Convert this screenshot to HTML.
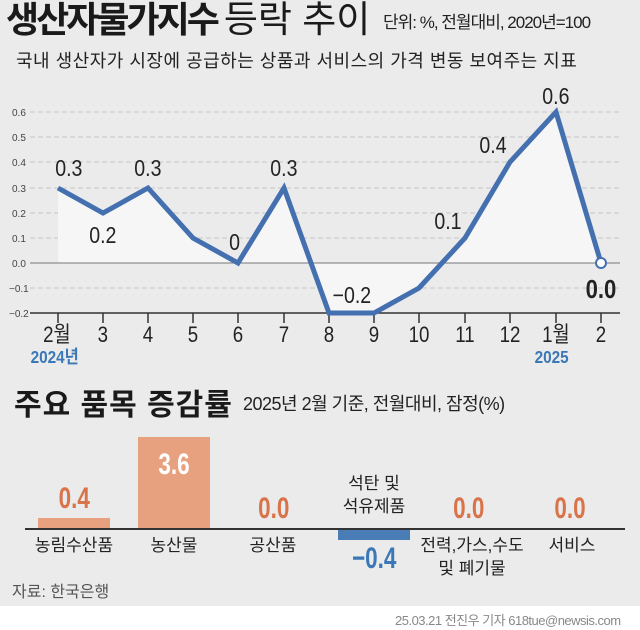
<!DOCTYPE html><html><head><meta charset="utf-8"><style>
body{margin:0;width:640px;height:630px;overflow:hidden;background:#ebebeb;font-family:"Liberation Sans","Noto Sans CJK KR",sans-serif;position:relative}
.t{position:absolute;white-space:nowrap}
</style></head><body>
<div class="t" style="left:6px;top:-11px;font-size:36px;font-weight:bold;color:#1a1a1a;letter-spacing:-3px">생산자물가지수 <span style="font-weight:normal;letter-spacing:0px;font-size:37px">등락 추이</span></div>
<div class="t" style="left:383px;top:8px;font-size:17px;color:#222;letter-spacing:-1px">단위: %, 전월대비, 2020년=100</div>
<div class="t" style="left:16px;top:47px;font-size:18px;color:#222;letter-spacing:0.5px">국내 생산자가 시장에 공급하는 상품과 서비스의 가격 변동 보여주는 지표</div>
<svg width="640" height="380" style="position:absolute;left:0;top:0" font-family="Liberation Sans, Noto Sans CJK KR, sans-serif">
<g stroke="#c4c4c4" stroke-dasharray="5,3" stroke-width="1">
<line x1="30" x2="620" y1="112" y2="112"/><line x1="30" x2="620" y1="137" y2="137"/><line x1="30" x2="620" y1="162" y2="162"/><line x1="30" x2="620" y1="188" y2="188"/><line x1="30" x2="620" y1="213" y2="213"/><line x1="30" x2="620" y1="238" y2="238"/><line x1="30" x2="620" y1="288" y2="288"/></g>
<polygon fill="#f6f6f6" points="58,263 58,188 103,213 148,188 193,238 238,263 284,188 329,313 374,313 419,288 465,238 510,162 556,112 601,263"/>
<line x1="30" x2="620" y1="263" y2="263" stroke="#777" stroke-width="1"/>
<line x1="30" x2="620" y1="313" y2="313" stroke="#333" stroke-width="1.5"/>
<g stroke="#333" stroke-width="1.5"><line x1="58" x2="58" y1="313" y2="323"/><line x1="103" x2="103" y1="313" y2="323"/><line x1="148" x2="148" y1="313" y2="323"/><line x1="193" x2="193" y1="313" y2="323"/><line x1="238" x2="238" y1="313" y2="323"/><line x1="284" x2="284" y1="313" y2="323"/><line x1="329" x2="329" y1="313" y2="323"/><line x1="374" x2="374" y1="313" y2="323"/><line x1="419" x2="419" y1="313" y2="323"/><line x1="465" x2="465" y1="313" y2="323"/><line x1="510" x2="510" y1="313" y2="323"/><line x1="556" x2="556" y1="313" y2="323"/><line x1="601" x2="601" y1="313" y2="323"/></g>
<g font-size="10" fill="#444"><text x="12" y="116">0.6</text><text x="12" y="141">0.5</text><text x="12" y="166">0.4</text><text x="12" y="192">0.3</text><text x="12" y="217">0.2</text><text x="12" y="242">0.1</text><text x="12" y="267">0.0</text><text x="9" y="292">−0.1</text><text x="9" y="317">−0.2</text></g>
<polyline fill="none" stroke="#4470b0" stroke-width="5" stroke-linejoin="miter" points="58,188 103,213 148,188 193,238 238,263 284,188 329,313 374,313 419,288 465,238 510,162 556,112 601,263"/>
<circle cx="601" cy="263" r="5" fill="#fff" stroke="#4470b0" stroke-width="2"/>
<g font-size="23" fill="#222" text-anchor="middle" transform="scale(0.85,1)">
<text x="81" y="176">0.3</text><text x="121" y="243">0.2</text><text x="174" y="176">0.3</text><text x="276" y="250">0</text><text x="334" y="176">0.3</text><text x="414" y="303">−0.2</text><text x="527" y="229">0.1</text><text x="580" y="153">0.4</text><text x="654" y="104">0.6</text><text x="707" y="298" font-weight="bold" font-size="26">0.0</text></g>
<g font-size="22" fill="#222" text-anchor="middle" transform="scale(0.85,1)">
<text x="67" y="342">2월</text><text x="121" y="342">3</text><text x="174" y="342">4</text><text x="227" y="342">5</text><text x="280" y="342">6</text><text x="334" y="342">7</text><text x="387" y="342">8</text><text x="440" y="342">9</text><text x="493" y="342">10</text><text x="547" y="342">11</text><text x="600" y="342">12</text><text x="654" y="342">1월</text><text x="707" y="342">2</text></g>
<g font-size="18" fill="#3a78b8" font-weight="bold" transform="scale(0.85,1)"><text x="36" y="363">2024년</text><text x="629" y="363">2025</text></g>
</svg>
<div class="t" style="left:14px;top:380px;font-size:30px;font-weight:bold;color:#1a1a1a;letter-spacing:1px">주요 품목 증감률</div>
<div class="t" style="left:243px;top:390px;font-size:18px;color:#222;letter-spacing:-0.5px">2025년 2월 기준, 전월대비, 잠정(%)</div>
<div style="position:absolute;left:38px;top:518px;width:72px;height:10px;background:#e8a17f"></div>
<div style="position:absolute;left:138px;top:437px;width:72px;height:91px;background:#e8a17f"></div>
<div style="position:absolute;left:338px;top:529px;width:72px;height:11px;background:#4a7db5"></div>
<div style="position:absolute;left:25px;top:528px;width:600px;height:1.5px;background:#333"></div>
<svg width="640" height="630" style="position:absolute;left:0;top:0" font-family="Liberation Sans, Noto Sans CJK KR, sans-serif">
<g font-size="30" font-weight="bold" text-anchor="middle" transform="scale(0.75,1)">
<text x="99" y="508" fill="#d9734a">0.4</text><text x="232" y="474" fill="#fff">3.6</text>
<text x="365" y="518" fill="#d9734a">0.0</text><text x="625" y="518" fill="#d9734a">0.0</text><text x="760" y="518" fill="#d9734a">0.0</text>
<text x="499" y="568" fill="#3a78b8">−0.4</text></g>
<g font-size="17" fill="#222" text-anchor="middle">
<text x="74" y="551">농림수산품</text><text x="174" y="551">농산물</text><text x="273" y="551">공산품</text>
<text x="374" y="489">석탄 및</text><text x="374" y="512">석유제품</text>
<text x="472" y="551">전력,가스,수도</text><text x="472" y="574">및 폐기물</text><text x="572" y="551">서비스</text></g>
<text x="12" y="597" font-size="16" fill="#555">자료: 한국은행</text>
</svg>
<div style="position:absolute;left:0;top:606px;width:640px;height:24px;background:#fff"></div>
<div class="t" style="left:395px;top:610px;font-size:13px;color:#888;letter-spacing:-0.5px">25.03.21 전진우 기자 618tue@newsis.com</div>
</body></html>
